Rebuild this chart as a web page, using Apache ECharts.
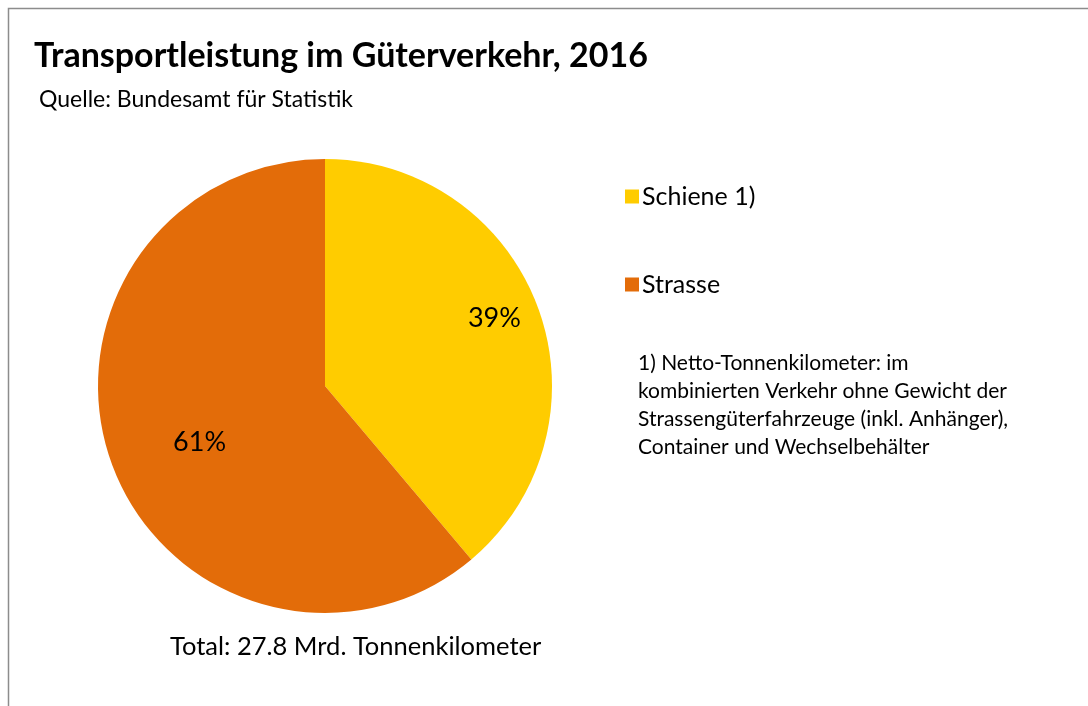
<!DOCTYPE html>
<html>
<head>
<meta charset="utf-8">
<script src="https://cdn.jsdelivr.net/npm/echarts@6/dist/echarts.min.js"></script>
<style>
  html, body { margin: 0; padding: 0; background: #fff; }
  #chart { width: 1088px; height: 706px; }
</style>
</head>
<body>
<div id="chart"></div>
<script>
var categories = ['Schiene 1)', 'Strasse'];
var values = [10.8, 17.0];
var colors = ['#FFCC00', '#E36C09'];
var noteLines = [
  '1) Netto-Tonnenkilometer: im',
  'kombinierten Verkehr ohne Gewicht der',
  'Strassengüterfahrzeuge (inkl. Anhänger),',
  'Container und Wechselbehälter'
];
var totalText = 'Total: 27.8 Mrd. Tonnenkilometer';

var font = 'Lato, "Open Sans", sans-serif';
var chart = echarts.init(document.getElementById('chart'));

// label nudges so they sit where the original places them
var labelShift = [[60, -28], [-16, 16]];

var option = {
  animation: false,
  backgroundColor: '#fff',
  title: [{
    text: 'Transportleistung im Güterverkehr, 2016',
    left: 29,
    top: 34,
    textStyle: { fontFamily: font, fontWeight: 'bold', fontSize: 34, color: '#000' }
  }, {
    text: 'Quelle: Bundesamt für Statistik',
    left: 34,
    top: 83,
    textStyle: { fontFamily: font, fontWeight: 'normal', fontSize: 23, color: '#000' }
  }],
  legend: {
    orient: 'vertical',
    left: 620,
    top: 179,
    itemWidth: 14,
    itemHeight: 14,
    itemGap: 63,
    icon: 'rect',
    textStyle: { fontFamily: font, fontSize: 25, color: '#000', padding: [0, 0, 0, -2] },
    data: categories
  },
  color: colors,
  series: [{
    type: 'pie',
    center: [325, 386],
    radius: 227,
    startAngle: 90,
    clockwise: true,
    label: {
      show: true,
      position: 'inside',
      formatter: '{d}%',
      fontFamily: font,
      fontSize: 27,
      color: '#000'
    },
    percentPrecision: 0,
    labelLine: { show: false },
    labelLayout: function (p) {
      var s = labelShift[p.dataIndex];
      return { dx: s[0], dy: s[1] };
    },
    emphasis: { disabled: true },
    data: categories.map(function (c, i) { return { name: c, value: values[i] }; })
  }],
  graphic: [
    {
      type: 'rect',
      shape: { x: 8.5, y: 8.5, width: 1200, height: 900 },
      style: { fill: 'none', stroke: '#8c8c8c', lineWidth: 1.5 },
      silent: true
    },
    {
      type: 'text',
      left: 638,
      top: 349,
      style: {
        text: noteLines.join('\n'),
        fontFamily: font,
        fontSize: 21,
        lineHeight: 28,
        fill: '#000'
      }
    },
    {
      type: 'text',
      left: 170,
      top: 634,
      style: {
        text: totalText,
        fontFamily: font,
        fontSize: 25.5,
        fill: '#000'
      }
    }
  ]
};

chart.setOption(option);
</script>
</body>
</html>
